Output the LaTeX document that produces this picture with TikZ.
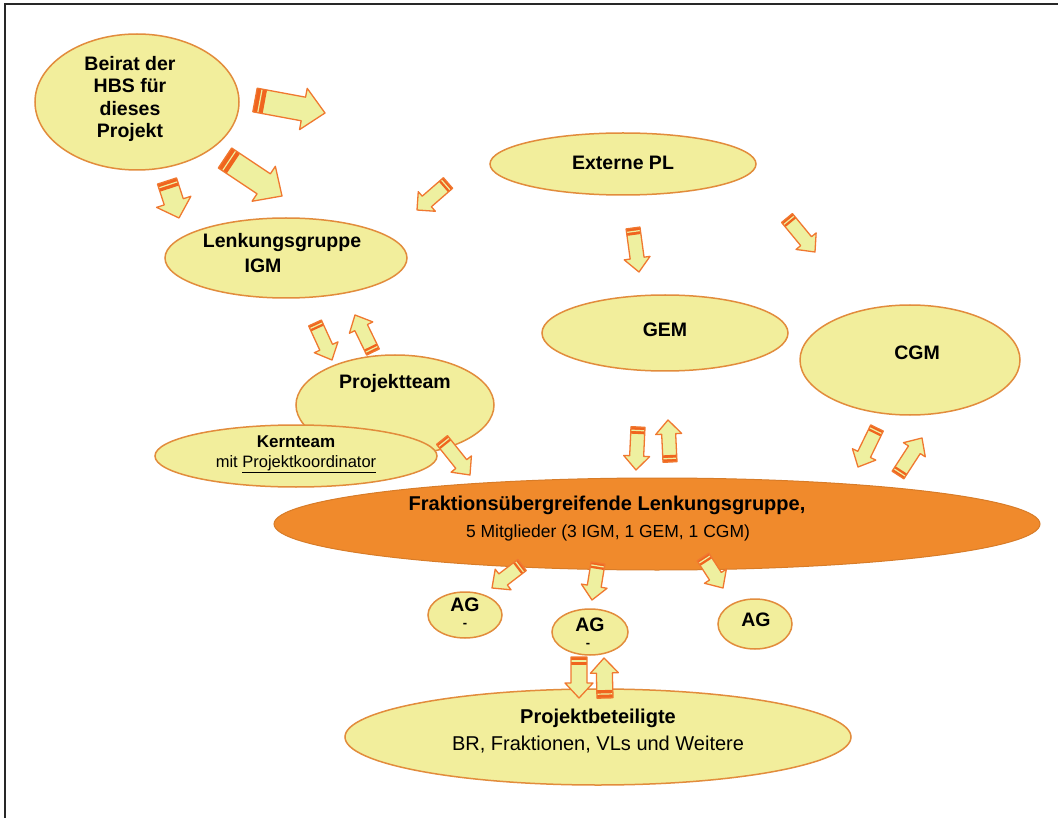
\documentclass[tikz,border=0pt]{standalone}
\usepackage{fontspec}
\setmainfont{Liberation Sans}
\usetikzlibrary{shapes.geometric,calc}
\definecolor{ellfill}{RGB}{242,238,156}
\definecolor{elldraw}{RGB}{226,140,60}
\definecolor{orangefill}{RGB}{240,138,44}
\definecolor{arrfill}{RGB}{238,240,160}
\definecolor{arrdraw}{RGB}{240,120,48}
\definecolor{arrband}{RGB}{240,100,30}
\definecolor{framecol}{RGB}{40,40,40}
\tikzset{
  ell/.style={ellipse, draw=elldraw, fill=ellfill, line width=1.5pt, inner sep=0pt},
  orangeell/.style={ellipse, fill=orangefill, draw=orangefill!90!black, line width=1pt, inner sep=0pt},
  bold20/.style={font=\fontsize{20}{23}\selectfont\bfseries, inner sep=0pt},
  bold19/.style={font=\fontsize{19.5}{22.5}\selectfont\bfseries, inner sep=0pt, align=center},
  bold17/.style={font=\fontsize{17}{20}\selectfont\bfseries, inner sep=0pt},
  dashmark/.style={font=\fontsize{13}{15}\selectfont\bfseries, inner sep=0pt},
  reg18/.style={font=\fontsize{17.5}{20}\selectfont, inner sep=0pt},
  reg20/.style={font=\fontsize{20}{23}\selectfont, inner sep=0pt},
  reg17/.style={font=\fontsize{16.5}{20}\selectfont, inner sep=0pt},
  arrowbody/.style={fill=arrfill, draw=none},
  arrowoutline/.style={draw=arrdraw, line width=1.3pt, line join=round},
  frameline/.style={draw=framecol, line width=2pt}
}
% #1 tail, #2 tip, #3 half shaft width, #4 half head width, #5 head length, #6 band length
\newcommand\blockarrow[6]{%
  \coordinate (bac) at ($(#2)!#5!(#1)$);
  \coordinate (bab) at ($(#1)!#6!(#2)$);
  \coordinate (bam) at ($(#1)!0.5!(bab)$);
  \path[arrowbody] ($(#1)!#3!90:(#2)$) -- ($(bac)!#3!90:(#2)$) -- ($(bac)!#4!90:(#2)$) -- (#2) -- ($(bac)!#4!-90:(#2)$) -- ($(bac)!#3!-90:(#2)$) -- ($(#1)!#3!-90:(#2)$) -- cycle;
  \fill[arrband] ($(#1)!#3!90:(#2)$) -- ($(bab)!#3!90:(#2)$) -- ($(bab)!#3!-90:(#2)$) -- ($(#1)!#3!-90:(#2)$) -- cycle;
  \draw[arrfill, line width=1.2pt] ($(bam)!#3!90:(#2)$) -- ($(bam)!#3!-90:(#2)$);
  \path[arrowoutline] ($(#1)!#3!90:(#2)$) -- ($(bac)!#3!90:(#2)$) -- ($(bac)!#4!90:(#2)$) -- (#2) -- ($(bac)!#4!-90:(#2)$) -- ($(bac)!#3!-90:(#2)$) -- ($(#1)!#3!-90:(#2)$) -- cycle;
}
\begin{document}
\begin{tikzpicture}[x=1pt,y=-1pt]
\useasboundingbox (0,0) rectangle (1058,818);
\fill[white] (0,0) rectangle (1058,818);
\coordinate (fa) at (5,4);
\coordinate (fb) at (1058,4);
\coordinate (fc) at (5,818);
\draw[frameline] (fb) -- (fa) -- (fc);

% ellipses
\node[ell, minimum width=204, minimum height=136] (beirat) at (137,102) {};
\node[ell, minimum width=266, minimum height=62] (extpl) at (623,164) {};
\node[ell, minimum width=242, minimum height=80] (lenk) at (286,258) {};
\node[ell, minimum width=246, minimum height=76] (gem) at (665,333) {};
\node[ell, minimum width=220, minimum height=110] (cgm) at (910,360) {};
\node[ell, minimum width=198, minimum height=100] (pteam) at (395,405) {};
\node[ell, minimum width=282, minimum height=62] (kern) at (296,456) {};
\node[orangeell, minimum width=766, minimum height=92] (frak) at (657,524) {};
\node[ell, minimum width=74, minimum height=46] (agl) at (465,615) {};
\node[ell, minimum width=76, minimum height=46] (agm) at (590,632) {};
\node[ell, minimum width=74, minimum height=50] (agr) at (755,624) {};
\node[ell, minimum width=506, minimum height=96] (pbet) at (598,737) {};

% texts
\node[bold19] (tbeirat) at (130,99) {Beirat der\\HBS für\\dieses\\Projekt};
\node[bold19] (text) at (623,163) {Externe PL};
\node[bold19] (tlenk1) at (282,243) {Lenkungsgruppe};
\node[bold19] (tlenk2) at (263,266) {IGM};
\node[bold19] (tgem) at (665,330) {GEM};
\node[bold19] (tcgm) at (917,353) {CGM};
\node[bold19] (tpteam) at (395,383) {Projektteam};
\node[bold17] (tkern1) at (296,442) {Kernteam};
\node[reg17] (tkern2) at (296,464) {mit \underline{Projektkoordinator}};
\node[bold20] (tfrak1) at (607,505) {Fraktionsübergreifende Lenkungsgruppe,};
\node[reg18] (tfrak2) at (608,533) {5 Mitglieder (3 IGM, 1 GEM, 1 CGM)};
\node[bold19] (tagl) at (465,605) {AG};
\node[dashmark] (tagld) at (465,625) {-};
\node[bold19] (tagm) at (590,625) {AG};
\node[dashmark] (tagmd) at (588,645) {-};
\node[bold19] (tagr) at (756,620) {AG};
\node[bold20] (tpbet1) at (598,718) {Projektbeteiligte};
\node[reg20] (tpbet2) at (598,745) {BR, Fraktionen, VLs und Weitere};

% arrow end points
\coordinate (a1t) at (255,100);  \coordinate (a1h) at (325,113);
\coordinate (a2t) at (225,158);  \coordinate (a2h) at (282,196);
\coordinate (a3t) at (167,181);  \coordinate (a3h) at (179,218);
\coordinate (a4t) at (448,183);  \coordinate (a4h) at (417,210);
\coordinate (a5t) at (633,228);  \coordinate (a5h) at (639,272);
\coordinate (a6t) at (787,218);  \coordinate (a6h) at (815,252);
\coordinate (a7t) at (315,323);  \coordinate (a7h) at (332,360);
\coordinate (a8t) at (373,352);  \coordinate (a8h) at (355,315);
\coordinate (a9t) at (442,440);  \coordinate (a9h) at (470,475);
\coordinate (a10t) at (638,427); \coordinate (a10h) at (636,470);
\coordinate (a11t) at (670,462); \coordinate (a11h) at (668,420);
\coordinate (a12t) at (877,428); \coordinate (a12h) at (858,467);
\coordinate (a13t) at (898,475); \coordinate (a13h) at (922,438);
\coordinate (a14t) at (522,565); \coordinate (a14h) at (492,588);
\coordinate (a15t) at (598,563); \coordinate (a15h) at (592,600);
\coordinate (a16t) at (703,557); \coordinate (a16h) at (723,588);
\coordinate (a17t) at (579,657); \coordinate (a17h) at (579,698);
\coordinate (a18t) at (605,698); \coordinate (a18h) at (604,658);

\blockarrow{a1t}{a1h}{12pt}{21pt}{22pt}{10pt}
\blockarrow{a2t}{a2h}{12pt}{21pt}{22pt}{10pt}
\blockarrow{a3t}{a3h}{10pt}{18pt}{17pt}{8pt}
\blockarrow{a4t}{a4h}{7pt}{13pt}{13pt}{6pt}
\blockarrow{a5t}{a5h}{7pt}{13pt}{14pt}{7pt}
\blockarrow{a6t}{a6h}{7pt}{13pt}{14pt}{6pt}
\blockarrow{a7t}{a7h}{7pt}{13pt}{14pt}{6pt}
\blockarrow{a8t}{a8h}{7pt}{13pt}{14pt}{6pt}
\blockarrow{a9t}{a9h}{7pt}{13pt}{14pt}{6pt}
\blockarrow{a10t}{a10h}{7pt}{13pt}{14pt}{7pt}
\blockarrow{a11t}{a11h}{7pt}{13pt}{14pt}{7pt}
\blockarrow{a12t}{a12h}{7pt}{13pt}{14pt}{6pt}
\blockarrow{a13t}{a13h}{7pt}{13pt}{14pt}{6pt}
\blockarrow{a14t}{a14h}{7pt}{13pt}{14pt}{6pt}
\blockarrow{a15t}{a15h}{7pt}{13pt}{14pt}{6pt}
\blockarrow{a16t}{a16h}{7pt}{13pt}{14pt}{6pt}
\blockarrow{a17t}{a17h}{8pt}{14pt}{15pt}{8pt}
\blockarrow{a18t}{a18h}{8pt}{14pt}{15pt}{8pt}
\end{tikzpicture}
\end{document}
